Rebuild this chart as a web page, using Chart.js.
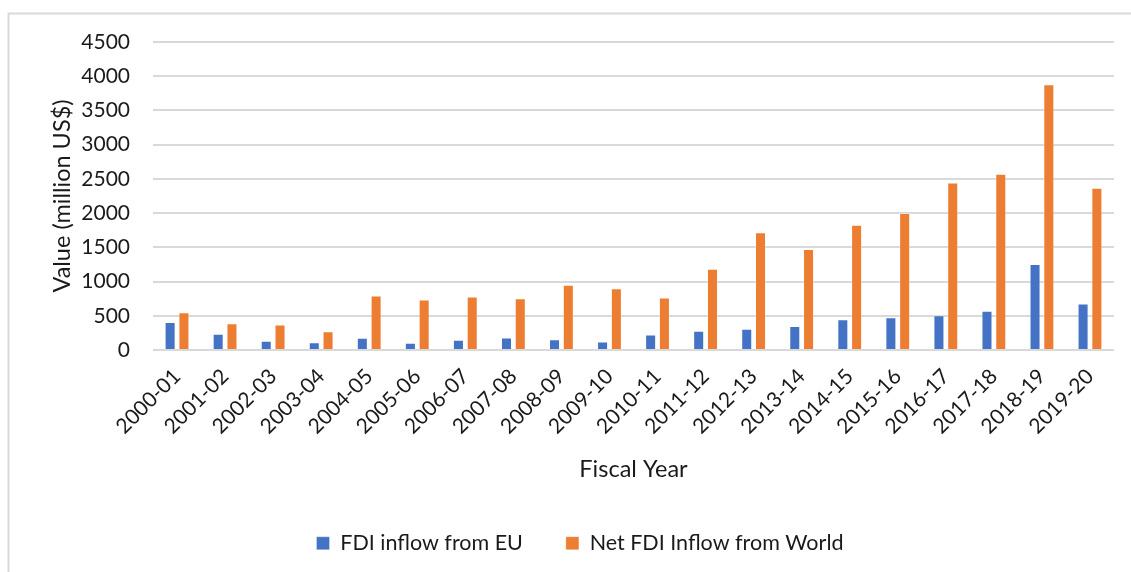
<!DOCTYPE html>
<html>
<head>
<meta charset="utf-8">
<script src="https://cdn.jsdelivr.net/npm/chart.js@4.4.1/dist/chart.umd.min.js"></script>
<style>
  html, body { margin: 0; padding: 0; background: #ffffff; }
  #wrap { position: relative; width: 1131px; height: 572px; }
  canvas { display: block; }
</style>
</head>
<body>
<div id="wrap"><canvas id="fdi" width="1131" height="572"></canvas></div>
<script>
// Fiscal years on the category axis
const fiscalYears = [
  '2000-01', '2001-02', '2002-03', '2003-04', '2004-05',
  '2005-06', '2006-07', '2007-08', '2008-09', '2009-10',
  '2010-11', '2011-12', '2012-13', '2013-14', '2014-15',
  '2015-16', '2016-17', '2017-18', '2018-19', '2019-20'
];

// FDI inflow from EU (million US$)
const euInflow = [
  409, 237, 134, 114, 178, 105, 151, 183, 158, 124,
  227, 281, 310, 350, 448, 477, 506, 574, 1255, 681
];

// Net FDI inflow from the world (million US$)
const worldInflow = [
  553, 392, 373, 275, 796, 738, 782, 757, 953, 903,
  767, 1187, 1722, 1474, 1829, 2000, 2448, 2574, 3883, 2370
];

// Value axis ticks
const valueTicks = [0, 500, 1000, 1500, 2000, 2500, 3000, 3500, 4000, 4500];

const seriesNames = ['FDI inflow from EU', 'Net FDI Inflow from World'];
const seriesColors = ['#4472C4', '#ED7D31'];

const FONT = 'Lato, "Open Sans", sans-serif';
const TEXT = '#1a1a1a';
const GRID = '#d9d9d9';

// Thin frame along the top and left edges of the chart
const framePlugin = {
  id: 'frame',
  beforeDraw(chart) {
    const ctx = chart.ctx;
    ctx.save();
    ctx.strokeStyle = GRID;
    ctx.lineWidth = 2;
    ctx.beginPath();
    ctx.moveTo(8.5, chart.height);
    ctx.lineTo(8.5, 13.5);
    ctx.lineTo(chart.width, 13.5);
    ctx.stroke();
    ctx.restore();
  }
};

new Chart(document.getElementById('fdi'), {
  type: 'bar',
  data: {
    labels: fiscalYears,
    datasets: [
      {
        label: seriesNames[0],
        data: euInflow,
        backgroundColor: seriesColors[0],
        borderColor: 'rgba(255,255,255,0.3)',
        borderWidth: 1,
        categoryPercentage: 0.574,
        barPercentage: 0.8
      },
      {
        label: seriesNames[1],
        data: worldInflow,
        backgroundColor: seriesColors[1],
        borderColor: 'rgba(255,255,255,0.3)',
        borderWidth: 1,
        categoryPercentage: 0.574,
        barPercentage: 0.8
      }
    ]
  },
  options: {
    responsive: false,
    animation: false,
    devicePixelRatio: 1,
    layout: { padding: { top: 42, right: 17, bottom: 8, left: 46 } },
    plugins: {
      legend: {
        position: 'bottom',
        labels: {
          boxWidth: 13,
          boxHeight: 13,
          padding: 43,
          color: TEXT,
          font: { family: FONT, size: 21.5 }
        }
      },
      tooltip: { enabled: false }
    },
    scales: {
      x: {
        grid: { display: false },
        border: { display: false },
        ticks: {
          autoSkip: false,
          minRotation: 45,
          maxRotation: 45,
          padding: 6,
          color: TEXT,
          font: { family: FONT, size: 21 }
        },
        title: {
          display: true,
          text: 'Fiscal Year',
          color: TEXT,
          padding: { top: 0, bottom: 6 },
          font: { family: FONT, size: 23.5 }
        },
        afterFit(scale) { scale.height = 139.5; }
      },
      y: {
        min: 0,
        max: valueTicks[valueTicks.length - 1],
        afterBuildTicks(scale) { scale.ticks = valueTicks.map(v => ({ value: v })); },
        grid: { color: GRID, lineWidth: 2, drawTicks: false },
        border: { display: false },
        ticks: {
          padding: 23,
          color: TEXT,
          font: { family: FONT, size: 21 },
          callback: (v) => String(v)
        },
        title: {
          display: true,
          text: 'Value (million US$)',
          color: TEXT,
          padding: { top: 2, bottom: 0 },
          font: { family: FONT, size: 23.5 }
        },
        afterFit(scale) { scale.width = 107; }
      }
    }
  },
  plugins: [framePlugin]
});
</script>
</body>
</html>
